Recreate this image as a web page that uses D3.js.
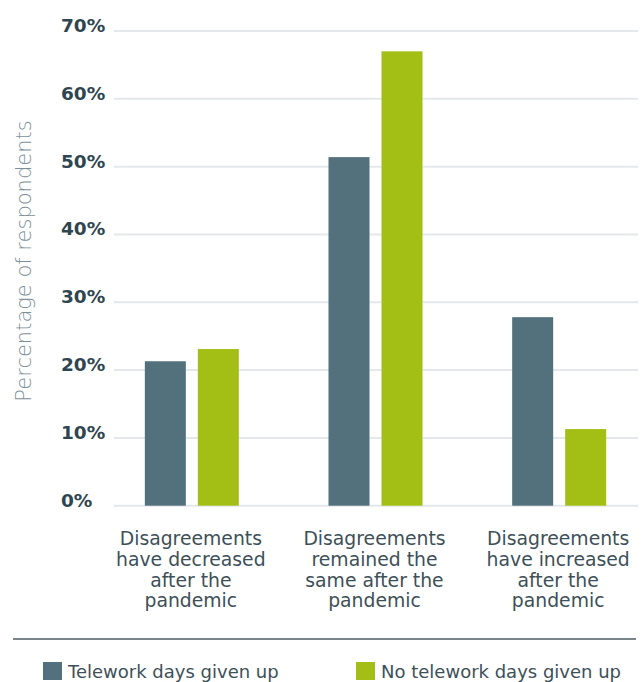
<!DOCTYPE html>
<html>
<head>
<meta charset="utf-8">
<script src="https://cdn.jsdelivr.net/npm/d3@7"></script>
<style>
  html, body { margin: 0; padding: 0; background: #fff; }
  svg { display: block; }
</style>
</head>
<body>
<svg id="chart" width="642" height="682"></svg>
<script>
// Survey answers on disagreements after the pandemic, by telework status
const categories = [
  ["Disagreements", "have decreased", "after the", "pandemic"],
  ["Disagreements", "remained the", "same after the", "pandemic"],
  ["Disagreements", "have increased", "after the", "pandemic"]
];
const seriesNames = ["Telework days given up", "No telework days given up"];
const teleworkGivenUp = [21.3, 51.4, 27.8];
const noTeleworkGivenUp = [23.1, 67, 11.3];
const yTicks = [0, 10, 20, 30, 40, 50, 60, 70];
const colors = ["#52717d", "#a3be14"];

const svg = d3.select("#chart");
const fontFamily = "'DejaVu Sans', 'Open Sans', sans-serif";

const y = d3.scaleLinear().domain([0, 70]).range([505.7, 31]);
const x0 = d3.scaleBand().domain(d3.range(categories.length)).range([100, 651]);
const x1 = d3.scaleBand().domain(d3.range(seriesNames.length)).range([-47, 47])
  .paddingInner(0.2264).paddingOuter(0);

const values = [teleworkGivenUp, noTeleworkGivenUp];

// horizontal gridlines
svg.append("g")
  .selectAll("line")
  .data(yTicks)
  .join("line")
  .attr("x1", 114).attr("x2", 638)
  .attr("y1", d => y(d)).attr("y2", d => y(d))
  .attr("stroke", "#e4e8ec")
  .attr("stroke-width", 2);

// y tick labels
svg.append("g")
  .selectAll("text")
  .data(yTicks)
  .join("text")
  .attr("x", 61)
  .attr("y", d => y(d) + 1)
  .attr("font-family", fontFamily)
  .attr("font-weight", 700)
  .attr("font-size", 18.5)
  .attr("fill", "#2f4650")
  .text(d => d + "%");

// y axis title
svg.append("text")
  .attr("transform", "translate(31,261) rotate(-90)")
  .attr("text-anchor", "middle")
  .attr("font-family", fontFamily)
  .attr("font-weight", 200)
  .attr("font-size", 21)
  .attr("fill", "#7d8f99")
  .text("Percentage of respondents");

// bars
const groups = svg.append("g")
  .selectAll("g")
  .data(categories.map((c, i) => i))
  .join("g")
  .attr("transform", i => `translate(${x0(i) + x0.bandwidth() / 2},0)`);

groups.selectAll("rect")
  .data(i => values.map((v, s) => ({ s, v: v[i] })))
  .join("rect")
  .attr("x", d => x1(d.s))
  .attr("width", x1.bandwidth())
  .attr("y", d => y(d.v))
  .attr("height", d => y(0) - y(d.v))
  .attr("fill", d => colors[d.s]);

// category labels
groups.append("text")
  .attr("text-anchor", "middle")
  .attr("font-family", fontFamily)
  .attr("font-size", 18.8)
  .attr("fill", "#3d5058")
  .selectAll("tspan")
  .data(i => categories[i])
  .join("tspan")
  .attr("x", -1)
  .attr("y", (d, k) => 545 + k * 20.8)
  .text(d => d);

// separator line above the legend
svg.append("line")
  .attr("x1", 13).attr("x2", 636)
  .attr("y1", 639).attr("y2", 639)
  .attr("stroke", "#4a5d65")
  .attr("stroke-width", 1.3);

// legend
const legendX = [43, 356];
const legend = svg.append("g")
  .selectAll("g")
  .data(seriesNames)
  .join("g")
  .attr("transform", (d, i) => `translate(${legendX[i]},662)`);

legend.append("rect")
  .attr("width", 19).attr("height", 18)
  .attr("fill", (d, i) => colors[i]);

legend.append("text")
  .attr("x", 25)
  .attr("y", 15.5)
  .attr("font-family", fontFamily)
  .attr("font-size", 18)
  .attr("fill", "#3d5058")
  .text(d => d);
</script>
</body>
</html>
